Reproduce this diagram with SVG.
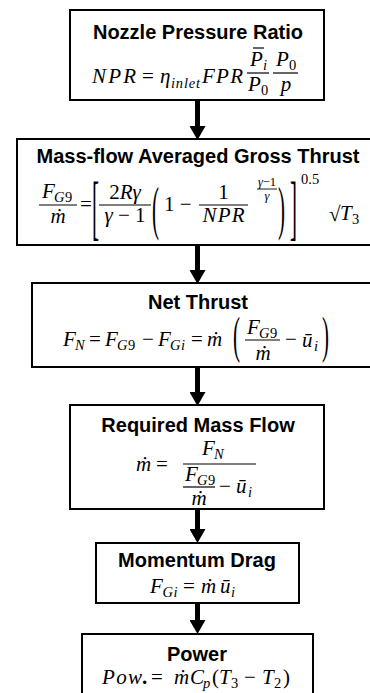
<svg xmlns="http://www.w3.org/2000/svg" width="370" height="693" viewBox="0 0 370 693">
<style>
.box{fill:#fff;stroke:#000;stroke-width:2}
.ttl{font-family:"Liberation Sans",Arial,sans-serif;font-weight:700;font-size:20px;text-anchor:middle;fill:#000}
.m{font-family:"Liberation Serif","DejaVu Serif",serif;font-style:italic;font-size:21px;fill:#000}
.u{font-style:normal}
.s{font-size:14.5px}
.xs{font-size:12.5px}
.c{text-anchor:middle}
.bar{stroke:#000;stroke-width:1.2;fill:none}
.arr{stroke:#000;stroke-width:5;fill:none}
</style>
<defs>
<marker id="ah" viewBox="0 0 14 16" refX="0" refY="8" markerWidth="14" markerHeight="16" markerUnits="userSpaceOnUse" orient="auto">
<path d="M0,0 L14,8 L0,16 Z" fill="#000"/>
</marker>
</defs>

<g id="connectors">
<line class="arr" x1="197.5" y1="100" x2="197.5" y2="126" marker-end="url(#ah)"/>
<line class="arr" x1="197.5" y1="245" x2="197.5" y2="270" marker-end="url(#ah)"/>
<line class="arr" x1="197.5" y1="367" x2="197.5" y2="392" marker-end="url(#ah)"/>
<line class="arr" x1="197.5" y1="509" x2="197.5" y2="529" marker-end="url(#ah)"/>
<line class="arr" x1="197.5" y1="603" x2="197.5" y2="620" marker-end="url(#ah)"/>
</g>

<g id="npr">
<rect class="box" x="70" y="10" width="254" height="90"/>
<text class="ttl" x="198" y="39">Nozzle Pressure Ratio</text>
<text class="m" x="92" y="83" textLength="44">NPR</text>
<text class="m u" x="142" y="83">=</text>
<text class="m" x="160" y="83">η</text>
<text class="m s" x="171" y="87.5" textLength="29">inlet</text>
<text class="m" x="202" y="83" textLength="41">FPR</text>
<line class="bar" x1="247" y1="73" x2="269" y2="73"/>
<text class="m" x="250" y="66">P</text>
<text class="m s" x="263" y="70">i</text>
<line class="bar" x1="253" y1="48" x2="264" y2="48"/>
<text class="m" x="248" y="91">P</text>
<text class="m u s" x="261" y="95">0</text>
<line class="bar" x1="273" y1="73" x2="298" y2="73"/>
<text class="m" x="276" y="66">P</text>
<text class="m u s" x="289" y="70">0</text>
<text class="m c" x="286" y="91">p</text>
</g>

<g id="gross-thrust">
<rect class="box" x="17" y="139" width="361" height="106"/>
<text class="ttl" x="198" y="163">Mass-flow Averaged Gross Thrust</text>
<text class="m" x="42" y="198">F</text>
<text class="m s" x="54" y="202">G</text>
<text class="m u s" x="65" y="202">9</text>
<line class="bar" x1="39" y1="205" x2="77" y2="205"/>
<text class="m c" x="58" y="223">ṁ</text>
<text class="m u" x="80" y="211">=</text>
<text class="m u" transform="translate(92,231) scale(1,3.4)">[</text>
<text class="m c" x="125" y="199"><tspan class="u">2</tspan>Rγ</text>
<line class="bar" x1="99" y1="205" x2="151" y2="205"/>
<text class="m c" x="125" y="222">γ <tspan class="u">− 1</tspan></text>
<text class="m u" transform="translate(152,228) scale(1,2.8)">(</text>
<text class="m u" x="164" y="211">1 −</text>
<text class="m u c" x="223.5" y="199">1</text>
<line class="bar" x1="199" y1="205" x2="248" y2="205"/>
<text class="m c" x="223.5" y="222" textLength="42">NPR</text>
<text class="m xs c" x="267" y="185.5">γ<tspan class="u">−1</tspan></text>
<line class="bar" x1="257" y1="189" x2="277" y2="189" style="stroke-width:0.9"/>
<text class="m xs c" x="267" y="199.5">γ</text>
<text class="m u" transform="translate(278,228) scale(1,2.8)">)</text>
<text class="m u" transform="translate(290,231) scale(1,3.4)">]</text>
<text class="m u s" x="301" y="184">0.5</text>
<text class="m u" x="329" y="221">√</text>
<text class="m" x="340" y="220">T</text>
<text class="m u s" x="352" y="224">3</text>
</g>

<g id="net-thrust">
<rect class="box" x="32" y="283" width="345" height="84"/>
<text class="ttl" x="198" y="309">Net Thrust</text>
<text class="m" x="63" y="346">F</text>
<text class="m s" x="75" y="350">N</text>
<text class="m u" x="89" y="346">=</text>
<text class="m" x="105" y="346">F</text>
<text class="m s" x="117" y="350">G</text>
<text class="m u s" x="128" y="350">9</text>
<text class="m u" x="142" y="346">−</text>
<text class="m" x="158" y="346">F</text>
<text class="m s" x="170" y="350">G</text>
<text class="m s" x="181" y="350">i</text>
<text class="m u" x="191" y="346">=</text>
<text class="m" x="207" y="346">ṁ</text>
<text class="m u" transform="translate(233,352) scale(1,2.4)">(</text>
<text class="m" x="247" y="334">F</text>
<text class="m s" x="259" y="338">G</text>
<text class="m u s" x="270" y="338">9</text>
<line class="bar" x1="245" y1="340" x2="280" y2="340"/>
<text class="m c" x="263" y="360">ṁ</text>
<text class="m u" x="285" y="346">−</text>
<text class="m" x="302" y="347">ū</text>
<text class="m s" x="314" y="351">i</text>
<text class="m u" transform="translate(322,352) scale(1,2.4)">)</text>
</g>

<g id="mass-flow">
<rect class="box" x="70" y="405" width="254" height="104"/>
<text class="ttl" x="198" y="432">Required Mass Flow</text>
<text class="m" x="136" y="471">ṁ</text>
<text class="m u" x="156" y="471">=</text>
<text class="m" x="202" y="455">F</text>
<text class="m s" x="214" y="459">N</text>
<line class="bar" x1="183" y1="464" x2="256" y2="464"/>
<text class="m" x="185" y="481">F</text>
<text class="m s" x="197" y="485">G</text>
<text class="m u s" x="208" y="485">9</text>
<line class="bar" x1="183" y1="487" x2="215" y2="487"/>
<text class="m c" x="199" y="505">ṁ</text>
<text class="m u" x="219" y="493">−</text>
<text class="m" x="236" y="493">ū</text>
<text class="m s" x="248" y="497">i</text>
</g>

<g id="momentum-drag">
<rect class="box" x="96" y="543" width="203" height="60"/>
<text class="ttl" x="197" y="567">Momentum Drag</text>
<text class="m" x="150" y="593">F</text>
<text class="m s" x="162.5" y="597">G</text>
<text class="m s" x="173.5" y="597">i</text>
<text class="m u" x="183" y="593">=</text>
<text class="m" x="201" y="593">ṁ</text>
<text class="m" x="220" y="593">ū</text>
<text class="m s" x="231" y="597">i</text>
</g>

<g id="power">
<rect class="box" x="82" y="634" width="231" height="70"/>
<text class="ttl" x="197" y="661">Power</text>
<text class="m" x="102" y="684" textLength="40">Pow</text>
<text class="m u" x="142" y="684" style="font-weight:700">.</text>
<text class="m u" x="151" y="684">=</text>
<text class="m" x="174" y="684">ṁ</text>
<text class="m" x="190" y="684">C</text>
<text class="m s" x="203" y="688">p</text>
<text class="m u" x="212" y="684">(</text>
<text class="m" x="219" y="684">T</text>
<text class="m u s" x="231" y="688">3</text>
<text class="m u" x="244" y="684">−</text>
<text class="m" x="262" y="684">T</text>
<text class="m u s" x="274" y="688">2</text>
<text class="m u" x="283" y="684">)</text>
</g>
</svg>
